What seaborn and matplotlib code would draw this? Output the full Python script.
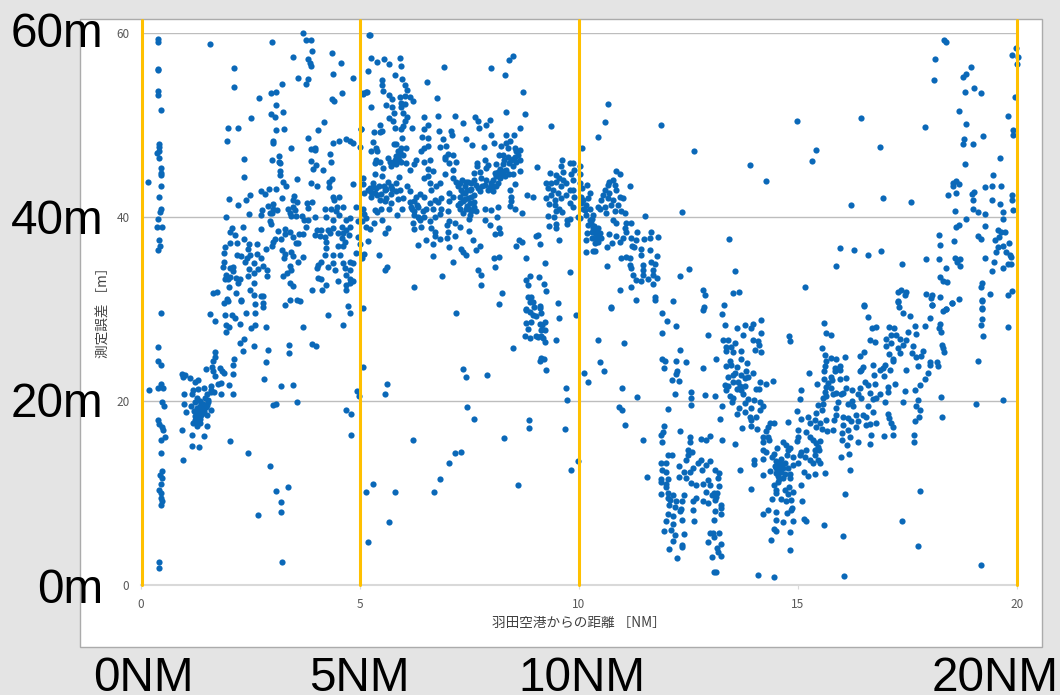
# -*- coding: utf-8 -*-
import pandas as pd
import matplotlib
matplotlib.use("Agg")
import matplotlib.pyplot as plt
from matplotlib.patches import Rectangle
import seaborn as sns

# (distance NM, error m), one list per area of the chart
column_near_zero = [(0.4,59.3),(0.4,59.0),(0.4,56.1),(0.41,56.0),(0.4,53.7),(0.4,53.2),(0.47,51.6),(0.42,47.9),(0.42,47.6),(0.43,47.2),(0.38,46.9),(0.42,46.4),(0.46,45.3),(0.47,44.8),(0.47,44.5),(0.46,43.3),(0.42,42.1),(0.47,40.8),(0.44,40.5),(0.39,39.8),(0.38,38.9),(0.49,38.9),(0.42,37.5),(0.45,36.8),(0.39,36.4),(0.18,43.8),(0.47,29.5),(0.4,25.9),(0.41,24.3),(0.47,23.9),(0.47,21.8),(0.41,21.4),(0.52,21.4),(0.49,19.9),(0.53,19.5),(0.39,17.9),(0.43,17.5),(0.49,17.2),(0.52,16.8),(0.56,16.1),(0.46,15.7),(0.46,14.3),(0.49,12.4),(0.44,12),(0.49,11.6),(0.47,11),(0.43,10.3),(0.47,10),(0.46,9.5),(0.49,9.1),(0.46,8.7),(0.43,2.5),(0.43,1.8),(0.2,21.2)]

low_cluster = [(0.95,22.9),(1.02,22.8),(0.97,22.6),(1.12,22.5),(1.32,22.3),(1.24,22),(1.19,21.2),(1.32,21.3),(1.44,21.4),(1.6,21.6),(1.62,21.2),(1.6,21),(1.67,21),(1,20.7),(1.17,20.7),(1.28,20.3),(1.51,20.7),(1.47,20.3),(1.53,19.9),(1.83,20.8),(0.99,19.7),(1.16,19.5),(1.25,19.9),(1.43,19.7),(1.52,19.6),(1.35,19.5),(1.03,18.8),(1.22,18.9),(1.33,19),(1.43,18.7),(1.6,19),(1.51,18.5),(1.28,18.2),(1.39,18.5),(1.19,17.6),(1.28,17.8),(1.35,17.6),(1.28,17.3),(1.51,17.3),(0.95,16.8),(1.18,16.3),(1.44,16.2),(1.18,15.1),(1.34,15),(0.97,13.6),(1.5,23.5),(1.63,23.7),(1.66,24.3),(1.69,24.8),(1.7,25.3),(1.66,23.2),(1.7,22.7),(1.81,23.6),(1.85,23.3),(1.9,23),(1.77,21.8),(1.83,21.9),(1.58,29.4),(1.69,28.7),(1.93,29.3),(2.09,29.3),(2.15,29),(2.41,29.5),(2.61,29.5),(1.9,30.6),(2,30.9),(2.3,30.9),(2.61,30.5),(2.8,30.6),(2.8,30.2),(3.29,30.4),(3.65,30.8),(4.74,30.3),(4.78,29.5),(4.27,29.3),(4.62,28.2),(1.96,28.2),(2.02,28),(1.95,27.5),(2.28,28.3),(2.52,27.9),(2.62,28.2),(2.87,28),(3.71,28),(2.37,26.7),(2.27,26.3),(2.33,25.4),(2.59,26),(2.91,25.5),(3.39,26.1),(3.38,25.2),(3.91,26.2),(4,26),(2.87,24.2),(2.13,24.6),(2.11,23.9),(2.11,22.9),(2.82,22.4),(2.02,21.7),(2.11,20.8),(3.2,21.6),(3.48,21.7),(3.57,19.9),(3.03,19.6),(3.09,19.7),(4.94,21.1),(4.99,20.5),(4.68,19),(4.81,18.6),(4.81,16.3),(2.04,15.6),(2.46,14.3),(2.96,12.9),(3.36,10.7),(3.1,10.2),(3.2,9),(3.2,7.9),(2.68,7.6),(3.23,2.5)]

upper_left = [(1.58,58.8),(2.14,56.2),(2.14,54.1),(1.99,49.7),(2.22,49.7),(1.98,48.2),(2.36,46.3),(2.36,44.3),(2.7,52.9),(2.52,50.7),(2.97,53.4),(3.1,53.6),(3.22,54.4),(3,59),(3.1,52.1),(3.25,51.4),(2.98,51.2),(3.07,50.8),(3.1,49.4),(3.28,49.5),(3.03,48.2),(3.03,48),(3.44,47.5),(3.15,46.6),(3.01,46.2),(3.15,46),(3.19,45.8),(3.18,45),(3.18,44.5),(3.25,43.8),(3.32,43.4),(3.57,44.1),(3.49,57.4),(3.6,55.1),(3.7,60),(3.77,59.2),(3.88,59.2),(3.91,58),(3.82,57.1),(3.86,56.7),(3.88,56.4),(3.83,55),(3.77,54.4),(4.36,57.8),(4.57,56.7),(4.4,55.5),(4.84,55.1),(4.59,53.5),(4.36,52.8),(4.41,52.6),(4.19,50.3),(4.05,49.4),(5.02,49.5),(3.82,48.6),(4.4,48),(4.52,48.2),(4.68,48.4),(4.78,48.2),(4.84,48),(5,47.6),(3.98,47.5),(3.9,47.4),(3.98,47.3),(4.33,46.8),(3.9,46.1),(4.34,45.9),(4,45.6),(3.93,45.2),(4.17,45.1),(4.36,44.1),(4.31,43.8),(3.88,43.7),(4.02,43.3),(4.31,43.2),(4.86,43.6)]

mid_left = [(2.75,42.8),(2.84,42.5),(2.93,43),(3.09,43),(3.22,42),(2.49,42.4),(2.41,41.8),(2.01,41.9),(2.22,41.3),(3.51,42.3),(3.48,41.8),(3.58,41.6),(3.79,41.5),(3.91,41.6),(3.82,41),(4.4,42.2),(4.53,42.1),(4.42,41.8),(3.03,41.4),(2.92,41.2),(3.03,40.9),(2.77,40.7),(1.96,40),(2.48,40.3),(2.75,40.2),(2.95,40.4),(3.12,40.7),(3.01,40.4),(3.36,40.8),(3.48,41.1),(3.42,40.4),(3.53,40.7),(3.44,40.1),(3.54,40.1),(3.68,40.1),(3.73,39.7),(3.82,39.7),(3.98,40),(4.21,40.9),(4.35,40.8),(4.49,41.1),(4.62,41.1),(4.47,40.6),(4.52,40.2),(4.24,40),(4.4,39.7),(4.91,41.1),(4.79,39.9),(4.7,39.7),(4.97,39.5),(2.96,39.5),(2.98,39.2),(2.35,38.9),(2.09,38.8),(2.04,38.3),(2.15,38),(2.74,38.7),(3.14,38.5),(3.3,38.7),(3.42,38.3),(3.29,38.1),(3.61,38.1),(3.71,38.1),(3.77,38.9),(3.48,37.8),(3.21,37.6),(3.07,37.6),(3.03,37.3),(2.36,37.6),(2.21,37.1),(2.05,37.1),(2.48,37),(2.66,37),(1.93,36.7),(2.45,36.5),(2.87,36.5),(2.99,36.8),(1.91,36.1),(3.22,36.4),(3.55,37.2),(3.6,37.2),(3.29,36),(3.44,36.2),(2.21,35.9),(2.3,35.7),(2.5,35.9),(2.42,35.5),(2.65,36),(2.74,35.5),(3.48,35.7),(3.27,35.5),(3.71,35.6),(3.6,35.1),(1.9,35.1),(2.38,35.1),(2.58,35),(2.8,34.7),(1.88,34.5),(2.04,34.4),(2.11,34.6),(2.48,34.3),(2.68,34.3),(2.89,34.2),(3.4,34.7),(3.44,34.2),(2.11,34.1),(2.58,33.9),(1.96,33.7),(2.04,33.5),(2.45,33.6),(2.89,33.6),(3.25,33.6),(3.34,33.9),(2.19,33.3),(2.28,33.2),(1.92,33.2),(2,33.2),(2.23,32.8),(2.6,32.8),(3.4,32.8),(3.47,32.5),(2.02,32.4),(2.49,32.1),(1.66,31.7),(1.75,31.8),(2.19,31.7),(2.6,31.5),(2.75,31.4),(2.8,31.4),(1.98,31.1),(3.4,31),(3.58,31),(2.3,31),(4.02,38.6),(4.13,38.6),(3.98,38),(4.09,37.9),(4.2,37.8),(4.28,38.6),(4.4,38.8),(4.32,38.2),(4.59,38.9),(4.7,38.6),(4.78,38.9),(4.51,38.2),(4.62,38.2),(4.76,38),(4.59,37.7),(4.24,37.3),(4.66,37.3),(4.97,37.8),(5,37),(4.51,36.8),(4.62,36.8),(4.24,36.6),(4.2,35.9),(4.4,35.9),(4.55,35.8),(4.91,36.1),(4.13,35.1),(4.4,35),(4.78,35.1),(4.62,35),(4.86,35),(4.05,34.8),(4.28,34.6),(4.66,34.4),(4.78,34.2),(4.02,34.4),(4.43,34.2),(4.7,33.7),(4.86,33),(4.78,33.2),(4.05,33.4),(4.13,33.2),(4.24,32.6),(4.51,33),(4.68,32.6),(4.78,32.8),(3.92,32.1),(4.15,32.1),(4.7,32.1)]

top_five_to_six = [(5.03,49.5),(5.08,53.3),(5.16,53.6),(5.18,55.8),(5.21,59.8),(5.23,59.8),(5.27,57.2),(5.4,56.8),(5.55,57.1),(5.68,56.6),(5.93,57.2),(5.95,56.4),(5.81,55.4),(5.52,54.9),(5.52,54.3),(5.53,53.7),(5.97,55),(6.03,54.3),(6.09,53.8),(5.08,53.4),(5.15,53.6),(5.26,51.9),(5.68,53.2),(5.75,52.8),(5.91,53),(6.03,53.1),(6.14,53),(6.22,52.6),(5.95,52.4),(6.03,52.2),(5.61,52.1),(5.74,51.9),(5.95,51.9),(5.78,51.3),(5.99,51.3),(6.08,50.8),(5.68,50.7),(5.76,50.4),(6.03,50.4),(5.47,50),(5.99,49.9),(5.8,49.6),(5.95,49.5),(5.46,49.2),(5.52,49.3),(5.32,49.2),(5.97,48.6),(6.2,49.7),(5.3,48.1),(5.37,47.5),(5.27,47.1),(5.84,47.9),(5.78,47.9),(6.05,47.5),(5.95,47.5),(5.4,47.1),(5.9,46.8),(5.84,46.6),(5.65,46.4),(5.99,46.7),(5.38,46.2),(5.47,45.9),(5.34,45.8),(5.9,46.2),(5.95,45.9),(5.76,45.8),(5.72,45.5),(5.84,45.7),(6.06,45.8),(6.29,46.2),(6.25,45.7),(6.14,45.1),(5.53,45.3)]

top_six_to_nine = [(6.54,54.6),(6.76,52.9),(6.93,56.3),(7.99,56.2),(8.31,55.4),(8.4,57),(8.51,57.5),(8.73,53.6),(8.33,51.4),(8.77,51.2),(9.36,49.9),(8.65,49.7),(6.47,50.8),(6.78,50.9),(7.17,50.9),(7.36,50.2),(7.64,50.8),(7.7,50.4),(7.72,49.6),(7.89,50),(7.98,50.5),(6.56,50),(6.48,49.5),(6.8,49.3),(7.09,49.3),(7.1,48.9),(6.42,48.7),(6.56,48.6),(6.9,48.5),(7.43,48.4),(8,48.9),(8.33,48.9),(8.53,48.9),(8.44,48.2),(8.06,48),(7.57,47.8),(7.84,47.6),(6.96,47.7),(6.83,47.6),(6.56,47.7),(6.48,47.5),(6.41,47.2),(6.47,46),(6.6,46.2),(6.56,45.2),(6.67,45),(6.94,46.5),(7.02,46.8),(7.13,46.7),(6.94,46.3),(7.19,46),(7.05,45.8),(7.13,45.1),(6.94,44.7),(7.68,45.8),(7.85,46.2),(7.68,45.5),(7.93,45.6),(7.89,45.3),(7.62,44.8),(7.74,44.9),(8.23,47.7),(8.35,48),(8.38,47.5),(8.54,47.5),(8.65,47.3),(8.57,47.1),(8.27,46.7),(8.38,46.5),(8.19,46.7),(8.61,46.7),(8.65,46.2),(8.57,45.9),(8.12,45.7),(8.27,45.7),(8.5,45.5),(8.16,44.9),(8.35,45.1),(8.65,45),(8.23,44.6),(8.5,44.7),(8.12,44.4),(8.31,44.4),(8.04,44),(8,43.7),(8.16,43.7),(7.89,44),(8.54,43.6),(7.85,43.5),(8.12,43.3),(7.93,42.9),(8.04,42.8),(7.78,44.2),(7.62,44),(7.66,43.5),(7.55,43.7),(7.47,43.8),(7.21,43.8),(7.28,43.7),(7.13,44.2),(7.4,43.3),(7.51,42.9),(7.32,42.9),(7.24,43.3),(7.74,42.8),(7.4,42.6),(7.62,42.4),(7.05,42.6),(7.47,42),(7.28,42.2),(7.13,42.2),(7.36,41.7),(7.51,41.5),(7.24,41.3),(7.62,41.1),(7.43,40.9),(7.55,40.6),(7.51,40.2),(7.66,40.6),(7.28,40.9),(7.85,40.9),(8,40.7),(8.16,41.1),(8.13,40),(7.85,39.7),(7.49,39.8),(7.05,39.5),(6.99,39.1),(7.17,39.3),(7.3,38.9),(7.49,38.5),(7.97,39.1),(8.18,38.8),(8.08,38.1),(8.21,38.2)]

row_five_to_seven = [(5.08,44.2),(5.08,43.6),(5.34,44.6),(5.52,44.4),(5.9,44.3),(5.65,43.8),(5.3,43.7),(5.84,43.7),(5.23,43.1),(5.38,43.1),(5.57,42.9),(5.72,43.3),(5.11,42.6),(5.27,42.2),(5.49,42.5),(5.72,42.5),(5.91,42.9),(6.08,43.3),(6.14,42.8),(5.46,41.8),(5.61,42),(5.99,42),(5.87,41.9),(5.72,41.5),(5.57,41.7),(5.68,40.9),(5.34,40.7),(5.49,40.8),(5.97,40.9),(5.08,40.9),(5.4,40.5),(5.11,40.3),(5.85,40.2),(5.5,39.7),(5.15,39.9),(5.06,39.5),(5.32,39.3),(5.15,38.9),(5.23,38.7),(5.64,38.8),(5.58,38.2),(5.19,37.4),(5.09,36),(5.44,35.9),(5.06,35.5),(5.62,34.6),(5.57,34.2),(6.23,32.4),(6.89,33.6),(6.56,44.4),(6.48,44.2),(6.83,43.7),(6.6,43.7),(6.75,43.3),(6.63,42.9),(6.38,42.5),(6.29,42.2),(6.48,42.2),(6.86,42),(6.71,41.8),(6.14,41.6),(6.25,41.7),(6.6,41.5),(6.79,41.6),(7.05,41.7),(6.18,41.1),(6.33,41.1),(6.52,40.9),(6.86,40.9),(6.67,40.8),(6.25,40.6),(6.44,40.6),(7.02,40.6),(6.83,40.3),(6.33,40),(6.48,40),(6.71,40),(6.22,39.3),(6.37,39.7),(6.6,39.5),(6.41,38.9),(6.25,38.7),(6.63,38.8),(6.71,38.4),(6.73,37.9),(7.02,38.4),(6.83,37.6),(6.99,37.7),(6.52,37.5),(7.17,37.9),(6.67,37),(6.33,36.9),(7.05,36.7),(7.59,37.5),(7.75,36.8),(7.66,36.4),(7.32,36.5),(7.37,36.2),(7.43,35.9),(6.68,35.7),(7.14,35.1),(8.06,35.5),(8.19,35.6),(7.71,34.2),(7.78,33.7),(8.1,34.5),(7.78,32.6),(8.25,31.7),(8.17,30.5)]

cluster_nine_to_ten = [(8.46,42.2),(8.44,42.9),(8.46,41.7),(8.42,41.2),(8.54,40.9),(8.7,40.4),(8.83,42.4),(8.96,42.2),(9.05,45.4),(8.57,36.8),(8.63,37.5),(8.7,37.3),(9.03,37.9),(9.07,38),(9.12,37),(8.79,35.5),(9.23,35),(9.56,37.5),(9.8,34),(8.89,33.6),(8.79,33.1),(9.09,33.5),(8.84,32.6),(9.21,32.7),(9.26,31.9),(9.52,30.6),(9.61,46.2),(9.59,45.5),(9.65,44.9),(9.35,44.8),(9.79,45.8),(9.87,45.8),(9.9,45.1),(9.49,44.5),(9.56,44.2),(9.83,44.6),(9.26,43.7),(9.37,43.7),(9.49,43.8),(9.64,44),(9.71,43.7),(9.87,44),(9.3,43.1),(9.6,43.4),(9.41,42.9),(9.79,42.9),(9.87,42.9),(9.26,42),(9.37,42.4),(9.52,42.6),(9.71,42.4),(9.9,42.2),(9.45,41.8),(9.6,42),(9.32,41.4),(9.45,41.3),(9.79,41.5),(9.87,41.1),(9.56,40.9),(9.62,40.5),(9.49,40.6),(9.3,40.1),(9.43,40),(9.79,39.8),(9.73,39.7),(9.73,39.2),(9.33,39),(9.49,39.2),(9.49,38.8),(9.98,40),(10.07,47.5),(10.02,45.5),(10.02,44.7),(10.02,43.7)]

cluster_ten_to_twelve = [(10.43,48.7),(10.61,50.3),(10.67,52.2),(11.87,50),(12.63,47.1),(10.84,45),(10.95,44.6),(10.78,44),(10.7,43.8),(10.19,43.5),(11.16,43.3),(10.67,43.5),(10.59,42.9),(10.82,43.5),(10.08,43.1),(10.25,42.6),(10.55,42.4),(10.7,42.6),(10.86,42.9),(10.93,42.2),(10.06,42.2),(10.21,42),(10.51,41.8),(10.67,42),(10.78,41.8),(11,42),(10.06,41.5),(10.17,41.3),(10.44,41.1),(10.59,41.1),(10.74,41.3),(10.89,41.3),(10.25,40.9),(10.1,40.8),(10.48,40.8),(10.63,40.4),(10.82,40.6),(10.97,40.6),(11.05,40.4),(10.17,40.2),(10.32,40.2),(10.02,39.9),(10.25,39.7),(10.78,39.7),(11.52,40.1),(12.35,40.5),(10.86,39.3),(10.29,39.3),(10.21,39.1),(11.08,39.3),(11.2,39.3),(11.05,38.8),(10.32,38.8),(10.44,38.8),(10.19,38.2),(10.36,38.2),(10.48,38.2),(10.7,38.1),(11.08,38.4),(11.33,38.3),(11.65,38.3),(10.16,37.5),(10.4,37.7),(10.51,37.7),(10.84,37.9),(11.01,37.7),(11.2,37.7),(11.31,37.5),(11.5,37.6),(11.62,37.7),(11.81,37.8),(10.36,37.1),(10.44,37.3),(10.76,37.1),(10.93,37.3),(11.22,36.8),(11.27,36.7),(11.43,36.5),(11.62,36.4),(10.64,36.7),(10.16,36.2),(10.32,36.3),(10.38,36.3),(10.97,35.5),(11.08,35.6),(11.18,35.5),(11.43,35.9),(11.79,35.7),(11.65,35.1),(11.75,34.9),(10.64,34.7),(11.18,34.8),(11.46,34.8),(11.46,34.2),(11.69,34.2),(11.2,34.4),(11.24,33.7),(11.46,33.7),(11.69,33.7),(11.78,33.4),(11.31,33.1),(11.43,33),(11.58,33.2),(11.69,32.7),(11.2,32.4),(10.93,32.1),(12.32,33.6),(12.51,34.3),(11.3,31),(11.73,31.3),(11.75,31),(12.15,30.8),(10.74,30.2)]

middle_lower = [(5.08,30.1),(7.21,29.5),(9.94,29.3),(10.74,30.1),(9.54,29),(10.43,26.6),(11.03,26.3),(9.47,26.6),(8.5,25.7),(8.84,31.3),(8.92,31.3),(8.8,30),(8.95,30.7),(9.11,30.3),(8.88,30.7),(8.8,29.9),(8.88,29.7),(8.99,30.2),(9.11,30.1),(9.14,29.6),(8.95,29.3),(9.03,29.2),(8.8,28.5),(8.92,28.6),(9.11,28.4),(9.24,28.6),(9.17,28.2),(8.84,27.8),(9.14,27.7),(9.22,27.7),(9.03,27),(9.14,27),(8.78,27.1),(8.88,26.8),(9.18,26.8),(9.22,26.4),(9.07,26.9),(9.14,24.7),(9.21,24.5),(9.11,24.3),(9.26,23.4),(5.07,23.7),(7.37,23.5),(7.43,22.6),(7.91,22.8),(5.62,21.8),(5.59,20.8),(9.71,21.4),(9.74,20.1),(10.11,23),(10.22,22.1),(10.49,24.2),(10.58,23.2),(10.98,21.4),(11.32,20.4),(10.92,19.3),(10.98,19),(11.05,17.4),(7.46,19.3),(7.62,18),(8.86,17.9),(8.86,17.1),(9.68,17),(8.29,16),(6.22,15.8),(7.31,14.5),(7.17,14.3),(7.05,13.3),(9.99,13.5),(9.83,12.5),(6.84,11.5),(5.3,11),(6.7,10.1),(5.8,10.1),(5.15,10.1),(8.61,10.9),(5.67,6.8),(5.18,4.7)]

valley_twelve = [(11.91,29.5),(12.01,28.7),(12.21,28.1),(11.91,27.4),(12.32,25.5),(11.9,24.5),(11.97,24.3),(12.22,24.3),(12.45,24.2),(11.94,23.6),(12.24,23.3),(12.22,22.9),(12.13,22.3),(12.28,22.2),(12.19,20.8),(12.57,21),(12.56,20.3),(12.57,19.6),(12.04,19.1),(11.94,17.3),(12.32,16.7),(11.92,16.6),(11.88,16.3),(12.53,16.1),(12.53,15.5),(11.9,15.5),(11.46,15.7),(12.49,14.7),(12.59,14.5),(12.03,14.1),(12.13,14.1),(12.49,14.1),(12.44,13.6),(11.88,13.3),(12,13.2),(12.28,12.9),(12.72,13.2),(11.89,12.5),(11.98,12.3),(12.41,12.3),(12.53,12.3),(12.6,12.7),(11.55,11.7),(12.28,11.7),(12.45,11.6),(11.88,11.5),(12.03,11.5),(11.88,11.2),(12.57,11.1),(12,11),(12.68,10.9),(11.98,10.6),(11.87,9.9),(12.03,10),(12.41,9.8),(12.15,9.8),(12.03,9.4),(12.68,9.4),(12.09,9.2),(12.22,9.1),(12.36,9.1),(12.6,9.1),(12.07,8.7),(12.19,8.5),(12.34,8.3),(12.6,8.2),(12.3,8),(12.03,7.7),(12.16,7.5),(12.35,7.1),(12.62,6.9),(11.99,7),(12.16,6.6),(12.11,6),(11.95,5.9),(12.19,5.4),(12.41,5.5),(12.16,4.8),(12.35,4.3),(12.35,4.1),(12.07,3.9),(12.25,2.9),(12.99,13.5),(12.8,13.6),(12.9,13),(12.82,12.5),(13.1,12.5),(13.2,12.2),(13.18,11.6),(12.95,11.4),(12.84,11),(12.99,10.9),(13.2,10.8),(12.9,10.1),(13.08,10),(13.16,10),(13.03,9.8),(13.14,9.6),(12.84,9.1),(12.95,8.9),(13.1,9.2),(13.24,8.7),(13.25,8.4),(13.1,8),(13.24,7.7),(13.09,7.1),(12.99,5.7),(13.06,5.7),(13.2,5.7),(13.08,5.2),(12.95,4.7),(13.25,4.5),(13.16,4),(13.18,3.6),(13.25,3.2),(13.04,3),(13.08,1.4),(13.14,1.4)]

upper_right = [(18.33,59.2),(18.37,59),(18.12,57.1),(18.1,54.9),(18.94,56.3),(18.84,55.5),(18.77,55.2),(18.81,53.6),(19.03,54),(19.17,53.4),(19.98,58.3),(19.89,57.6),(20.02,57.4),(20.01,56.6),(19.95,53),(18.67,51.5),(19.8,50.9),(14.97,50.4),(16.45,50.7),(17.89,49.8),(18.84,50.1),(19.91,49.4),(19.91,48.9),(19.22,48.8),(18.79,48.4),(18.76,47.9),(19,47.9),(15.41,47.3),(16.87,47.6),(15.32,46.1),(13.9,45.6),(14.27,43.9),(19.62,46.4),(18.82,45.7),(19.45,44.5),(18.6,43.9),(18.54,43.7),(18.55,43.4),(18.68,43.6),(19.28,43.2),(19.42,43.3),(19.63,43.3),(19.02,42.7),(18.98,42.5),(18.6,42.6),(18.43,42.4),(19.89,42.4),(19.88,41.8),(16.95,42),(16.21,41.3),(17.58,41.6),(18.99,41.8),(19.42,41.8),(19.62,41.4),(18.58,40.6),(19,40.8),(19.12,40.5),(19.28,40.3),(19.67,40.5),(19.92,40.7),(18.84,39.8),(19.68,39.8),(18.6,38.9),(18.68,39.1),(19.28,39),(19.56,38.6),(19.63,38.4),(19.73,38.4),(18.23,38),(19.12,37.9),(19.17,37.6),(19.5,37.5),(19.6,37.8),(18.56,37.4),(19.82,37.2),(13.42,37.6),(18.24,36.9),(15.95,36.6),(16.28,36.4),(16.6,35.8),(16.89,36.3),(19.57,36.7),(19.68,36.8),(19.53,36.2),(19.76,36.2),(19.83,35.8),(19.87,35.6),(17.93,35.4),(18.23,35.4),(18.59,35.5),(18.71,35.4),(19.27,35.5),(19.47,35.1),(18.64,35.1),(19.79,34.9),(19.86,34.9),(18.71,34.7),(15.86,34.7),(17.38,34.9),(18.37,34.4),(19.68,34.4),(19.44,34.1),(13.56,34.1),(18.25,33.5),(18.31,33),(18.4,32.9),(19.2,32.8),(19.18,32.4),(15.16,32.4),(12.84,32),(12.87,31.5),(13.51,31.7),(13.66,31.8),(17.28,31.8),(17.36,32.1),(17.47,31.8),(17.45,31.5),(17.92,31.6),(18.06,31.5),(18.03,31.2),(18.25,31.3),(18.68,31.1),(19.39,31.6),(19.19,31),(19.79,31.5),(19.88,31.9),(17.28,30.8),(17.31,30.2),(16.52,30.4),(18.07,30.4),(18.52,30.6),(19.19,30.1),(13.32,30.4),(12.85,30.2),(18.39,30)]

rise_thirteen_fifteen = [(13.27,29.4),(12.84,29.9),(13.34,28.2),(13.61,27.9),(13.8,28.2),(13.94,27.9),(13.98,28.4),(14.16,28.8),(13.75,27.2),(14.15,27.4),(12.95,27.2),(14.79,27.1),(14.81,26.5),(13.98,26.6),(14.09,26.5),(14.11,26.1),(14.03,25.5),(14.15,25.3),(13.29,26.6),(13.41,26.6),(13.56,26.3),(13.35,25.9),(13.48,25.9),(13.35,25.4),(13.52,25.3),(13.71,25.4),(13.71,24.6),(13.14,24.5),(13.44,24.3),(13.84,24.1),(13.35,23.8),(13.48,23.9),(13.61,23.7),(12.84,23.6),(13.56,23),(13.71,22.8),(13.82,23.2),(13.98,23),(13.41,22.6),(13.52,22.8),(13.86,22.6),(13.79,22.5),(13.63,22.1),(13.52,22.1),(14.43,22.2),(14.14,22),(14.27,21.8),(13.33,21.7),(13.41,21.6),(13.67,21.6),(13.79,21.6),(14.04,21.3),(14.11,21.3),(13.6,21.3),(13.37,21.2),(13.71,21.2),(13.75,20.7),(13.44,20.5),(13.12,20.5),(12.87,20.6),(13.52,20.3),(13.86,20.2),(14.01,20.1),(14.13,19.9),(13.5,19.9),(13.79,19.8),(14.2,19.5),(13.27,19.5),(13.66,19.2),(13.94,19.2),(14.13,19),(13.79,18.8),(13.6,18.6),(13.9,18.3),(14.05,18.2),(13.23,18),(13.94,17.9),(13.94,17.3),(13.73,17.1),(14.07,17),(14.78,17.7),(14.45,17.6),(14.36,17.6),(14.32,17.2),(14.28,16.7),(14.2,16.1),(14.32,16.1),(14.34,15.8),(12.99,16.2),(12.9,15.8),(12.78,15.9),(13.28,15.7),(13.56,15.3),(14.2,15.5),(14.66,15.5),(14.74,15.2),(14.83,14.9),(14.52,14.9),(14.78,14.7),(14.2,14.7),(14.28,14.5),(14.4,13.9),(14.2,13.7),(14.45,14.2),(14.75,14.1),(14.62,13.7),(14.89,13.9),(14.01,13.6),(13.99,13.1),(15,13.3),(14.89,13),(14.55,13.2),(14.7,13.2),(14.47,12.9),(14.62,13),(14.78,12.7),(14.36,12.4),(14.49,12.2),(14.62,12.3),(14.7,12.1),(14.83,12.1),(13.67,12.5),(14.2,12),(14.55,11.8),(14.66,11.6),(14.83,11.6),(14.55,11.2),(14.45,10.9),(15.08,10.9),(14.8,10.6),(13.92,10.4),(14.51,10.3),(14.7,10.3),(14.89,10.1),(14.49,10),(14.78,9.9),(14.62,9.3),(14.4,9.3),(14.72,9.1),(14.85,9.2),(15.1,9.1),(14.87,8.4),(14.85,8.1),(14.75,7.8),(14.31,8.2),(14.2,7.7),(14.49,7.9),(14.49,7.1),(14.65,6.8),(14.89,6.9),(15.13,7.2),(15.19,7),(14.45,6.1),(14.51,5.9),(14.83,5.8),(14.38,4.9),(14.81,3.8),(14.08,1.1),(14.45,0.9)]

rise_fifteen_twenty = [(16.52,30.3),(17.28,30.7),(17.41,29.5),(17.55,29.2),(16.6,29.1),(18.06,30.4),(18.31,29.8),(18.39,30),(18.52,30.6),(19.19,30.8),(19.19,30),(19.19,28.9),(19.17,28.2),(19.22,27),(19.79,28),(18.01,29),(15.59,28.5),(15.65,27.4),(15.75,27.2),(16.68,27.9),(16.79,28),(17.07,28),(17.19,27.9),(17.67,28.1),(17.89,28.1),(18.24,28.3),(18.21,27.9),(18.27,27.5),(17.69,27.3),(17.51,27.5),(17.13,27.2),(17.25,27.2),(17.32,26.7),(17,26.7),(16.65,26.6),(16.75,26.4),(17.47,26.6),(17.13,26.3),(17,26),(17.63,26),(17.4,26.1),(17.28,25.7),(18.3,26.1),(18.31,25.7),(18.33,25.3),(17.61,25.2),(17.86,25.4),(17.32,25.2),(17.09,25.1),(17.7,24.8),(17.82,24.9),(16.52,25.3),(16.41,24.9),(17.16,24.6),(17.16,24.3),(15.54,25.7),(15.63,25),(15.76,24.7),(15.86,24.5),(16.08,24.8),(15.65,24.3),(15.63,23.8),(15.95,23.8),(15.84,23.6),(15.95,23.4),(15.6,23.2),(15.84,23.2),(15.25,23),(16.49,23.7),(16.45,23.4),(16.71,23.9),(16.98,23.9),(16.87,23.4),(16.94,23.6),(17.11,23.4),(17.46,23.4),(17.73,23.8),(18.01,24.2),(18.01,23.9),(18.17,24.2),(18.2,23.8),(19.1,24.3),(17.98,23),(16.73,22.8),(16.97,22.7),(16.41,23.3),(15.08,21.2),(15.05,20.2),(14.99,18.9),(15.06,18),(15.23,18.2),(15.27,17.6),(15,16.8),(15,16.1),(14.98,15.6),(15.19,16.6),(15.27,16.1),(15.35,15.8),(15.42,15.4),(15.51,15.6),(15.46,15),(15.38,14.7),(15.48,14.7),(15.08,14.5),(15.19,14.7),(15.04,14.1),(15.16,13.9),(15.38,14.1),(15.27,13.6),(15.35,13.2),(15.5,13.2),(15.46,13.6),(15.13,12.3),(15.23,11.8),(15.38,12.1),(15.61,12.2),(15.98,13.9),(16.16,14.2),(16.18,12.5),(15.44,21.8),(15.59,22.4),(15.76,22.6),(15.79,22.3),(15.95,22.4),(16.09,22.5),(15.69,21.9),(15.65,21.5),(15.76,21.4),(15.61,21),(15.88,20.9),(16.03,20.9),(16.09,21.4),(16.24,21.2),(16.41,21.4),(16.54,22.1),(16.6,21.7),(16.75,21.8),(17.06,21.5),(17.21,21.8),(17.06,21),(16.87,20.7),(16.37,20.8),(16.45,20.3),(16.64,20.9),(17.44,21.1),(17.67,21.2),(17.78,21.7),(17.89,22.4),(15.57,20.3),(15.65,20.5),(15.8,20.7),(15.92,19.9),(15.99,20.7),(16.14,19.7),(16.24,20),(16.26,19.4),(15.57,19.7),(15.46,19.6),(15.42,18.7),(15.54,19),(15.88,19.2),(16.71,20.2),(16.79,20.3),(16.98,19.9),(17.4,19.9),(17.73,20.1),(18.27,20.4),(19.07,19.7),(19.69,20.1),(16.6,19.4),(16.71,18.8),(17.7,19.5),(17.78,19),(15.86,18.5),(15.82,17.9),(16.03,18.3),(16.14,18.1),(16.33,18.5),(16.49,18.5),(16.56,18.2),(16.22,17.8),(16.37,17.8),(15.38,17.9),(15.5,17.6),(15.65,17.9),(15.42,17.2),(15.54,17),(15.67,16.7),(15.8,16.8),(16.03,17.4),(16.33,17.2),(16.14,16.8),(16.01,16.5),(16.18,16.1),(16.01,15.7),(16.11,15.2),(16.38,15.5),(16.56,17.4),(16.64,17.5),(16.79,17.6),(17.06,18.6),(17.09,18.1),(17.12,17.6),(17.16,17.2),(16.66,16.3),(16.97,16.2),(17.16,16.3),(16.65,15.3),(17.76,18.3),(17.67,17.8),(18.29,18.2),(17.64,16.3),(17.64,15.5),(16.08,9.9),(17.79,10.2),(15.59,6.5),(17.38,6.9),(16.03,5.3),(17.75,4.2),(19.17,2.2),(16.05,1)]

# the merged blobs, where single dots are harder to tell apart
dense_blobs = [(7.35,42.6),(7.45,42.9),(7.4,41.9),(7.55,42.2),(7.3,41.5),(7.45,41.2),(7.6,41.6),(7.35,40.4),(7.5,40.9),(7.42,43.8),(7.33,44),(7.55,43),(7.7,43.1),(7.8,43.4),(8.1,44.8),(8.2,45.2),(8.3,45),(8.4,45.8),(8.45,46.2),(8.05,43.3),(7.97,43.2),(8.2,44.2),(8.3,46.2),(8.5,46.3),(8.55,46.5),(8.4,44.7),(5.2,42.9),(5.3,43.2),(5.35,42.6),(5.45,43.3),(5.55,43.4),(5.25,42.7),(5.6,43),(5.75,43),(5.4,42.4),(5.82,42.8),(5.8,46.2),(5.88,46.5),(5.78,46),(5.7,45.9),(5.92,47),(5.88,47.2),(6.3,41.3),(6.25,40.2),(6.35,39.9),(6.2,40.9),(10.3,39.8),(10.35,39),(10.4,38.5),(10.3,38.4),(10.42,37.9),(10.3,37.7),(10.1,41.8),(10.15,40.7),(1.3,19.2),(1.4,19.1),(1.45,18.9),(1.3,18.6),(1.25,18.4),(1.35,18),(1.5,19.3),(1.55,20.1),(1.35,20),(1.25,17.9),(14.5,13.5),(14.55,12.8),(14.6,12.6),(14.5,12.7),(14.65,12.7),(14.6,13.3),(14.55,12.3),(14.58,11.5)]

marker_lines = [0.04, 5, 10, 20]
x_ticks = [0, 5, 10, 15, 20]
y_ticks = [0, 20, 40, 60]
big_y_labels = ["0m", "20m", "40m", "60m"]
big_y_pos = [603, 417, 234, 47]
big_x_labels = ["0NM", "5NM", "10NM", "20NM"]
big_x_pos = [143, 359, 582, 995]

W, H = 1060, 695


def main():
    segments = [column_near_zero, low_cluster, upper_left, mid_left, top_five_to_six,
                top_six_to_nine, row_five_to_seven, cluster_nine_to_ten, cluster_ten_to_twelve,
                middle_lower, valley_twelve, upper_right, rise_thirteen_fifteen,
                rise_fifteen_twenty, dense_blobs]
    df = pd.DataFrame([p for seg in segments for p in seg], columns=["dist", "err"])

    sns.set_style("white")
    plt.rcParams['font.family'] = ['Noto Sans CJK JP', 'DejaVu Sans']

    fig = plt.figure(figsize=(W / 100, H / 100), dpi=100, facecolor="#e4e4e4")
    # white chart area with thin border
    fig.add_artist(Rectangle((79.5 / W, 1 - 647 / H), (1042 - 79.5) / W, (647 - 18.5) / H,
                             transform=fig.transFigure, facecolor="white",
                             edgecolor="#ababab", linewidth=1, zorder=0))

    ax = fig.add_axes([140.5 / W, 1 - 585 / H, (1017 - 140.5) / W, (585 - 32.7) / H])
    ax.set_facecolor("none")
    sns.scatterplot(data=df, x="dist", y="err", ax=ax, color="#0a68b8", s=20, linewidth=0, clip_on=False, zorder=3)

    ax.set_xlim(0, 20)
    ax.set_ylim(0, 60)
    ax.set_xticks(x_ticks)
    ax.set_yticks(y_ticks)
    ax.grid(axis="y", color="#bdbdbd", linewidth=1)
    ax.set_axisbelow(True)
    sns.despine(ax=ax, left=True, top=True, right=True)
    ax.spines["bottom"].set_color("#d9d9d9")
    ax.spines["bottom"].set_linewidth(1.5)
    ax.tick_params(axis="x", length=3, color="#d9d9d9", labelsize=8.5, labelcolor="#595959", pad=6, bottom=True)
    ax.tick_params(axis="y", length=0, labelsize=8.5, labelcolor="#595959", pad=8)
    ax.set_xlabel("羽田空港からの距離 ［NM］", fontsize=9.8, color="#404040", labelpad=4)
    ax.set_ylabel("測定誤差 ［m］", fontsize=9.8, color="#404040", labelpad=4)

    for x in marker_lines:
        ax.axvline(x, ymin=0, ymax=1.023, color="#ffc000", linewidth=2.2, clip_on=False, zorder=4)

    big = dict(family=["Liberation Sans"], fontsize=34.3, color="black", zorder=10)
    for label, py in zip(big_y_labels, big_y_pos):
        fig.text(103 / W, 1 - py / H, label, ha="right", va="baseline", **big)
    for label, px in zip(big_x_labels, big_x_pos):
        fig.text(px / W, 1 - 691 / H, label, ha="center", va="baseline", **big)

    fig.savefig("out.png", dpi=100, facecolor=fig.get_facecolor())


if __name__ == '__main__':
    main()
